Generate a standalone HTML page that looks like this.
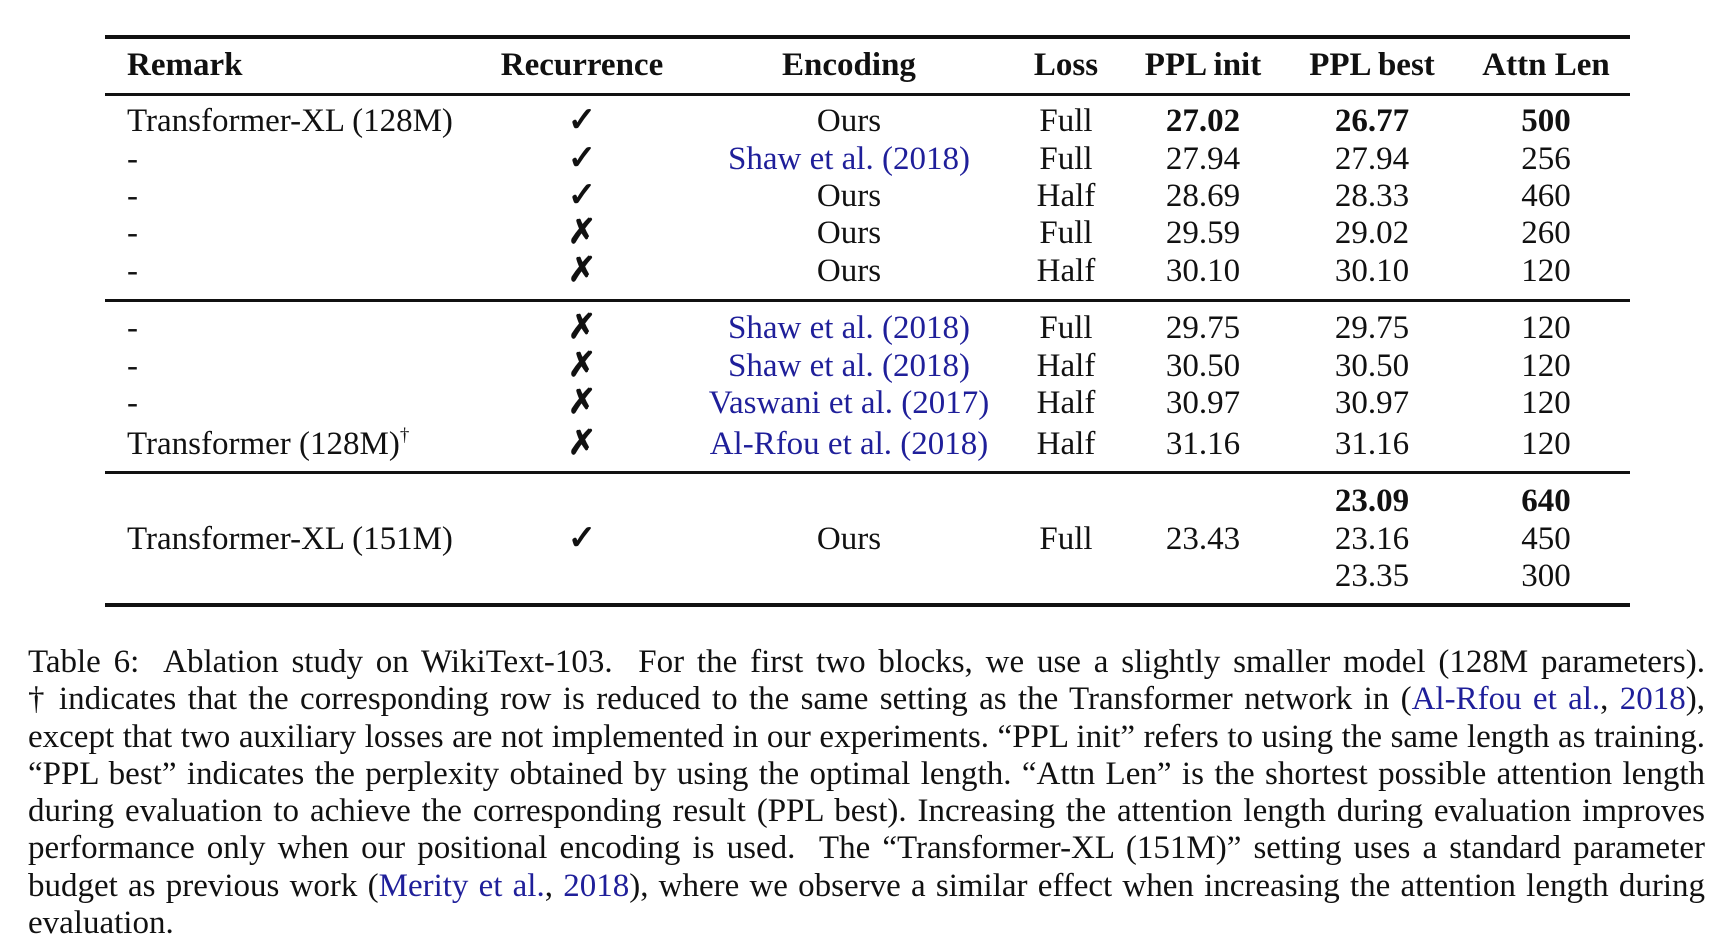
<!DOCTYPE html>
<html><head><meta charset="utf-8"><style>
body{margin:0;width:1736px;height:944px;background:#fff;position:relative;overflow:hidden;font-family:"Liberation Serif",serif;font-size:33px;color:#111}
.r{position:absolute;left:105px;width:1525px;background:#111}
.t{position:absolute;white-space:nowrap;line-height:36px}
.c{position:absolute;width:300px;text-align:center;white-space:nowrap;line-height:36px}
b{font-weight:bold}
.l{color:#1f1f9a}
.k{font-weight:bold;font-size:34px}
.cap{position:absolute;left:28px;width:1677px;line-height:37.3px;top:644px}
.cap div{text-align:justify;text-align-last:justify;white-space:nowrap;height:37.3px}
.cap div.last{text-align-last:left}
</style></head><body>
<div class="r" style="top:35px;height:4px"></div>
<div class="r" style="top:93px;height:3px"></div>
<div class="r" style="top:299px;height:2.5px"></div>
<div class="r" style="top:471px;height:2.5px"></div>
<div class="r" style="top:603px;height:4px"></div>

<div id="tbl"></div>
<script>
const cols=[582,849,1066,1203,1372,1546];
const rows=[
[65,'<b>Remark</b>',['<b>Recurrence</b>','<b>Encoding</b>','<b>Loss</b>','<b>PPL init</b>','<b>PPL best</b>','<b>Attn Len</b>']],
[121,'Transformer-XL (128M)',['<span class="k">✓</span>','Ours','Full','<b>27.02</b>','<b>26.77</b>','<b>500</b>']],
[159,'-',['<span class="k">✓</span>','<span class="l">Shaw et al. (2018)</span>','Full','27.94','27.94','256']],
[196,'-',['<span class="k">✓</span>','Ours','Half','28.69','28.33','460']],
[233,'-',['<span class="k">✗</span>','Ours','Full','29.59','29.02','260']],
[271,'-',['<span class="k">✗</span>','Ours','Half','30.10','30.10','120']],
[328,'-',['<span class="k">✗</span>','<span class="l">Shaw et al. (2018)</span>','Full','29.75','29.75','120']],
[366,'-',['<span class="k">✗</span>','<span class="l">Shaw et al. (2018)</span>','Half','30.50','30.50','120']],
[403,'-',['<span class="k">✗</span>','<span class="l">Vaswani et al. (2017)</span>','Half','30.97','30.97','120']],
[444,'Transformer (128M)<sup style="font-size:19px;vertical-align:13px;line-height:0">†</sup>',['<span class="k">✗</span>','<span class="l">Al-Rfou et al. (2018)</span>','Half','31.16','31.16','120']],
[501,'',['','','','','<b>23.09</b>','<b>640</b>']],
[539,'Transformer-XL (151M)',['<span class="k">✓</span>','Ours','Full','23.43','23.16','450']],
[576,'',['','','','','23.35','300']]
];
let h='';
for(const [y,rem,cs] of rows){
 h+=`<div class="t" style="left:127px;top:${y-18}px">${rem}</div>`;
 cs.forEach((v,i)=>{h+=`<div class="c" style="left:${cols[i]-150}px;top:${y-18}px">${v}</div>`});
}
document.getElementById('tbl').outerHTML=h;
</script>
<div class="cap">
<div>Table 6:&nbsp; Ablation study on WikiText-103.&nbsp; For the first two blocks, we use a slightly smaller model (128M parameters).</div>
<div>† indicates that the corresponding row is reduced to the same setting as the Transformer network in (<span class="l">Al-Rfou et al.</span>, <span class="l">2018</span>),</div>
<div>except that two auxiliary losses are not implemented in our experiments. “PPL init” refers to using the same length as training.</div>
<div>“PPL best” indicates the perplexity obtained by using the optimal length. “Attn Len” is the shortest possible attention length</div>
<div>during evaluation to achieve the corresponding result (PPL best). Increasing the attention length during evaluation improves</div>
<div>performance only when our positional encoding is used.&nbsp; The “Transformer-XL (151M)” setting uses a standard parameter</div>
<div>budget as previous work (<span class="l">Merity et al.</span>, <span class="l">2018</span>), where we observe a similar effect when increasing the attention length during</div>
<div class="last">evaluation.</div>
</div>
</body></html>
